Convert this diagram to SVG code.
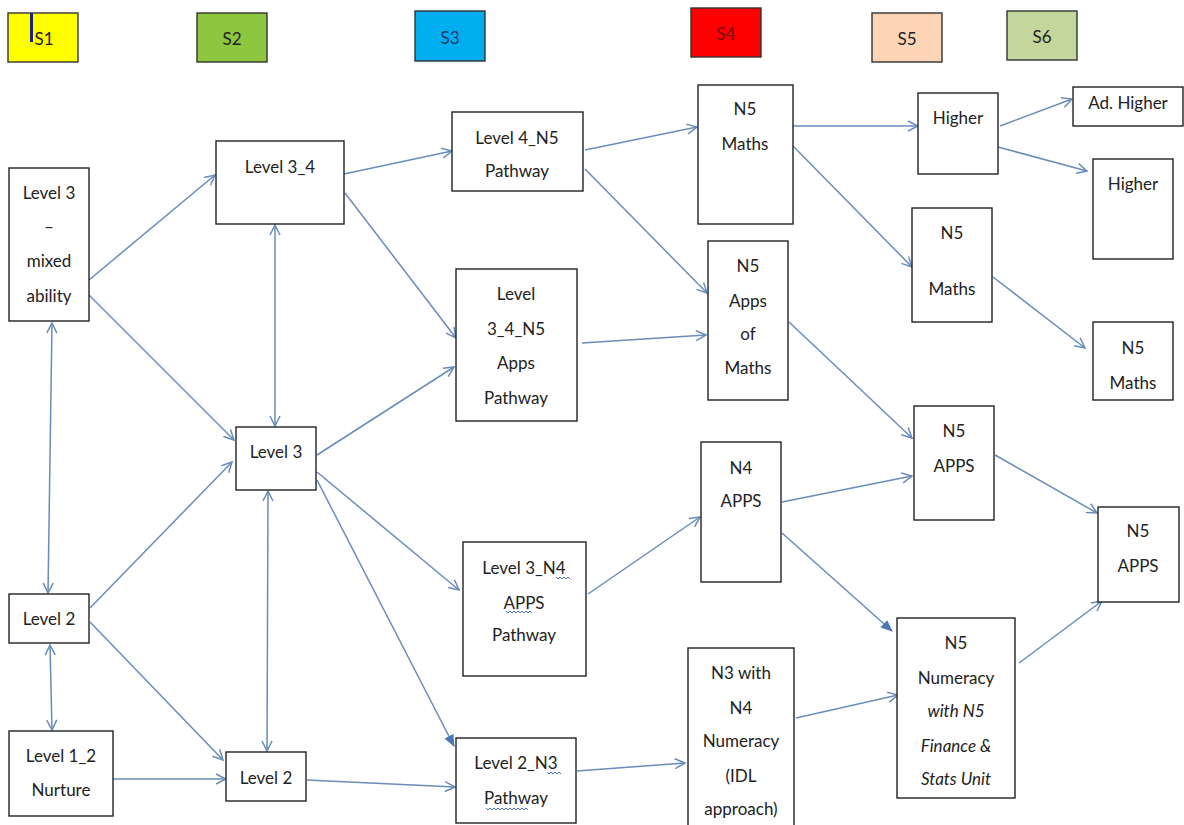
<svg xmlns="http://www.w3.org/2000/svg" width="1184" height="825" viewBox="0 0 1184 825">
<style>
.bx{fill:#fff;stroke:#222;stroke-width:1.4}
.hd{stroke:#333;stroke-width:1.4}
text{font-family:Lato,"Open Sans","Liberation Sans",sans-serif;font-size:17px;fill:#222;text-anchor:middle;dominant-baseline:central}
.it{font-style:italic}
.c line{stroke:#6a8cba;stroke-width:1.5;fill:none}
.sq{stroke:#4a6fc0;stroke-width:1;fill:none}
</style>
<defs>
<marker id="a" viewBox="0 0 12 12" refX="11" refY="6" markerWidth="12" markerHeight="12" markerUnits="userSpaceOnUse" orient="auto-start-reverse">
<path d="M1,1 L11,6 L1,11" fill="none" stroke="#6a8cba" stroke-width="1.5"/>
</marker>
<marker id="f" viewBox="0 0 12 12" refX="11" refY="6" markerWidth="12" markerHeight="12" markerUnits="userSpaceOnUse" orient="auto">
<path d="M0,1 L12,6 L0,11 Z" fill="#4f76b0"/>
</marker>
</defs>
<rect width="1184" height="825" fill="#fff"/>

<g id="headers">
<g id="h-s1"><rect class="hd" x="8" y="13" width="70" height="49" fill="#ffff00"/><rect x="30" y="13" width="3" height="29" fill="#1a237e"/><text x="44" y="38">S1</text></g>
<g id="h-s2"><rect class="hd" x="197" y="13" width="70" height="49" fill="#8dc63f"/><text x="232" y="38">S2</text></g>
<g id="h-s3"><rect class="hd" x="415" y="11" width="70" height="50" fill="#00aeef"/><text x="450" y="37" style="fill:#1a3c6e">S3</text></g>
<g id="h-s4"><rect class="hd" x="691" y="8" width="70" height="49" fill="#ff0000"/><text x="726" y="33" style="fill:#7a0000">S4</text></g>
<g id="h-s5"><rect class="hd" x="872" y="13" width="70" height="49" fill="#fbd5b5"/><text x="907" y="38">S5</text></g>
<g id="h-s6"><rect class="hd" x="1007" y="11" width="70" height="49" fill="#c3d69b"/><text x="1042" y="36">S6</text></g>
</g>

<g id="connectors" class="c">
<line x1="89" y1="280" x2="215" y2="175" marker-end="url(#a)"/>
<line x1="89" y1="295" x2="234" y2="440" marker-end="url(#a)"/>
<line x1="52" y1="323" x2="48" y2="593" marker-start="url(#a)" marker-end="url(#a)"/>
<line x1="275" y1="225" x2="275" y2="426" marker-start="url(#a)" marker-end="url(#a)"/>
<line x1="344" y1="174" x2="452" y2="151" marker-end="url(#a)"/>
<line x1="345" y1="193" x2="456" y2="338" marker-end="url(#a)"/>
<line x1="317" y1="455" x2="454" y2="367" marker-end="url(#a)"/>
<line x1="317" y1="472" x2="459" y2="590" marker-end="url(#a)"/>
<line x1="317" y1="480" x2="454" y2="746" marker-end="url(#f)"/>
<line x1="268" y1="491" x2="267" y2="751" marker-start="url(#a)" marker-end="url(#a)"/>
<line x1="90" y1="608" x2="232" y2="462" marker-end="url(#a)"/>
<line x1="90" y1="622" x2="223" y2="760" marker-end="url(#a)"/>
<line x1="50" y1="645" x2="52" y2="730" marker-start="url(#a)" marker-end="url(#a)"/>
<line x1="113" y1="779" x2="226" y2="779" marker-end="url(#a)"/>
<line x1="307" y1="780" x2="455" y2="787" marker-end="url(#a)"/>
<line x1="585" y1="150" x2="697" y2="127" marker-end="url(#a)"/>
<line x1="585" y1="169" x2="707" y2="293" marker-end="url(#a)"/>
<line x1="582" y1="343" x2="706" y2="335" marker-end="url(#a)"/>
<line x1="588" y1="594" x2="700" y2="517" marker-end="url(#a)"/>
<line x1="577" y1="771" x2="685" y2="763" marker-end="url(#a)"/>
<line x1="793" y1="126" x2="918" y2="126" marker-end="url(#a)"/>
<line x1="793" y1="146" x2="912" y2="267" marker-end="url(#a)"/>
<line x1="789" y1="322" x2="912" y2="438" marker-end="url(#a)"/>
<line x1="782" y1="502" x2="912" y2="476" marker-end="url(#a)"/>
<line x1="782" y1="533" x2="892" y2="631" marker-end="url(#f)"/>
<line x1="796" y1="718" x2="898" y2="695" marker-end="url(#a)"/>
<line x1="1019" y1="663" x2="1102" y2="601" marker-end="url(#a)"/>
<line x1="995" y1="455" x2="1097" y2="513" marker-end="url(#a)"/>
<line x1="1000" y1="126" x2="1072" y2="99" marker-end="url(#a)"/>
<line x1="998" y1="147" x2="1087" y2="171" marker-end="url(#a)"/>
<line x1="993" y1="277" x2="1085" y2="348" marker-end="url(#a)"/>
</g>

<g id="n-l3mixed"><rect class="bx" x="9" y="168" width="80" height="153"/><text x="49" y="192">Level 3</text><text x="49" y="226">–</text><text x="49" y="260">mixed</text><text x="49" y="295">ability</text></g>
<g id="n-l2a"><rect class="bx" x="9" y="594" width="80" height="49"/><text x="49" y="618">Level 2</text></g>
<g id="n-l12"><rect class="bx" x="9" y="731" width="104" height="85"/><text x="61" y="755">Level 1_2</text><text x="61" y="789">Nurture</text></g>

<g id="n-l34"><rect class="bx" x="216" y="141" width="128" height="83"/><text x="280" y="166">Level 3_4</text></g>
<g id="n-l3"><rect class="bx" x="236" y="427" width="80" height="63"/><text x="276" y="451">Level 3</text></g>
<g id="n-l2b"><rect class="bx" x="226" y="752" width="80" height="49"/><text x="266" y="777">Level 2</text></g>

<g id="n-l4n5"><rect class="bx" x="452" y="112" width="131" height="79"/><text x="517" y="137">Level 4_N5</text><text x="517" y="170">Pathway</text></g>
<g id="n-l34n5"><rect class="bx" x="456" y="269" width="121" height="152"/><text x="516" y="293">Level</text><text x="516" y="328">3_4_N5</text><text x="516" y="362">Apps</text><text x="516" y="397">Pathway</text></g>
<g id="n-l3n4"><rect class="bx" x="463" y="542" width="123" height="134"/><text x="524" y="567">Level 3_N4</text><text x="524" y="602">APPS</text><text x="524" y="634">Pathway</text>
<path class="sq" d="M556,577 l2,2 l2,-2 l2,2 l2,-2 l2,2 l2,-2 l2,2"/><path class="sq" d="M506,611 l2,2 l2,-2 l2,2 l2,-2 l2,2 l2,-2 l2,2 l2,-2 l2,2 l2,-2 l2,2 l2,-2 l2,2"/></g>
<g id="n-l2n3"><rect class="bx" x="456" y="738" width="120" height="85"/><text x="516" y="762">Level 2_N3</text><text x="516" y="797">Pathway</text>
<path class="sq" d="M547,772 l2,2 l2,-2 l2,2 l2,-2 l2,2 l2,-2 l2,2"/><path class="sq" d="M486,808 l2,2 l2,-2 l2,2 l2,-2 l2,2 l2,-2 l2,2 l2,-2 l2,2 l2,-2 l2,2 l2,-2 l2,2 l2,-2 l2,2 l2,-2 l2,2 l2,-2 l2,2 l2,-2 l2,2"/></g>

<g id="n-n5m4"><rect class="bx" x="698" y="85" width="95" height="139"/><text x="745" y="108">N5</text><text x="745" y="143">Maths</text></g>
<g id="n-n5aom"><rect class="bx" x="708" y="241" width="80" height="159"/><text x="748" y="265">N5</text><text x="748" y="300">Apps</text><text x="748" y="333">of</text><text x="748" y="367">Maths</text></g>
<g id="n-n4apps"><rect class="bx" x="701" y="442" width="80" height="140"/><text x="741" y="467">N4</text><text x="741" y="500">APPS</text></g>
<g id="n-n3n4"><rect class="bx" x="688" y="648" width="106" height="190"/><text x="741" y="672">N3 with</text><text x="741" y="707">N4</text><text x="741" y="740">Numeracy</text><text x="741" y="775">(IDL</text><text x="741" y="808">approach)</text></g>

<g id="n-higher5"><rect class="bx" x="918" y="93" width="80" height="81"/><text x="958" y="117">Higher</text></g>
<g id="n-n5m5"><rect class="bx" x="912" y="208" width="80" height="114"/><text x="952" y="232">N5</text><text x="952" y="288">Maths</text></g>
<g id="n-n5apps5"><rect class="bx" x="914" y="406" width="80" height="114"/><text x="954" y="430">N5</text><text x="954" y="465">APPS</text></g>
<g id="n-n5num"><rect class="bx" x="897" y="618" width="118" height="180"/><text x="956" y="642">N5</text><text x="956" y="677">Numeracy</text><text class="it" x="956" y="710">with N5</text><text class="it" x="956" y="745">Finance &amp;</text><text class="it" x="956" y="778">Stats Unit</text></g>

<g id="n-adhigher"><rect class="bx" x="1073" y="87" width="110" height="39"/><text x="1128" y="102">Ad. Higher</text></g>
<g id="n-higher6"><rect class="bx" x="1093" y="159" width="80" height="100"/><text x="1133" y="183">Higher</text></g>
<g id="n-n5m6"><rect class="bx" x="1093" y="322" width="80" height="78"/><text x="1133" y="347">N5</text><text x="1133" y="382">Maths</text></g>
<g id="n-n5apps6"><rect class="bx" x="1098" y="507" width="81" height="95"/><text x="1138" y="530">N5</text><text x="1138" y="565">APPS</text></g>
</svg>
